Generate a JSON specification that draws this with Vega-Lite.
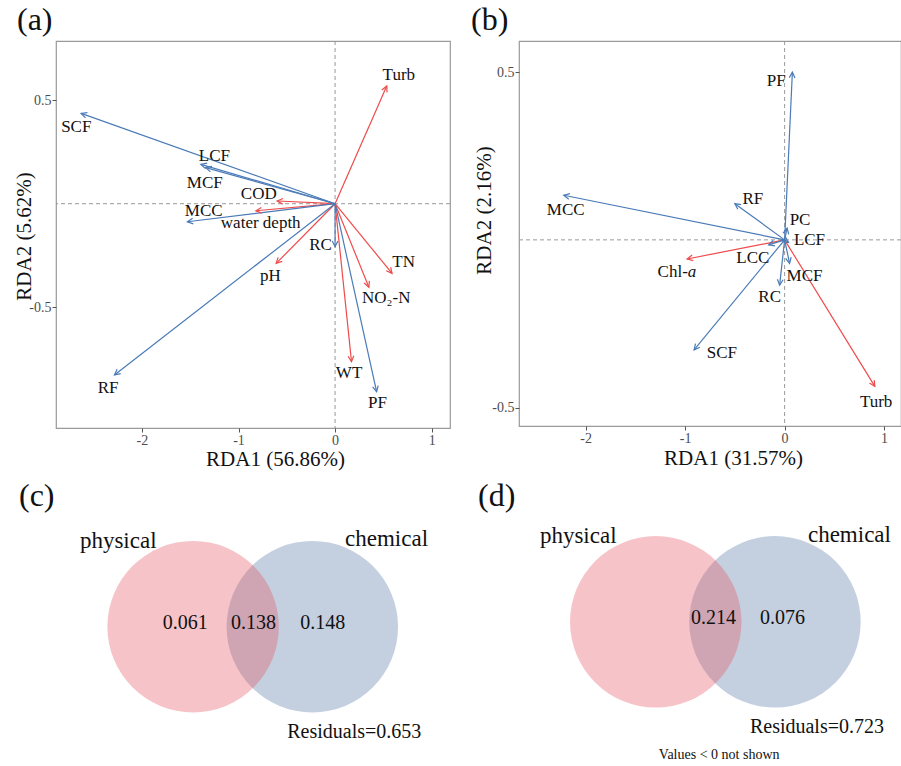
{
  "$schema": "https://vega.github.io/schema/vega-lite/v6.json",
  "background": "white",
  "padding": {"left": 12, "top": 2, "right": 0, "bottom": 0},
  "autosize": {"type": "pad"},
  "resolve": {"scale": {"color": "independent"}, "legend": {"color": "independent"}},
  "config": {
    "font": "Liberation Serif",
    "view": {"stroke": "#9a9a9a", "strokeWidth": 1.2},
    "axis": {"grid": false, "domain": false, "tickColor": "#555555", "tickSize": 4, "labelFont": "Liberation Serif", "labelFontSize": 14, "labelColor": "#4d4d4d", "labelPadding": 1, "titleFont": "Liberation Serif", "titleFontSize": 21, "titleFontWeight": "normal", "titleColor": "#111111"},
    "title": {"font": "Liberation Serif", "fontSize": 32, "fontWeight": "normal", "anchor": "start", "frame": "group", "color": "#111111"}
  },
  "datasets": {
    "rdaA": [
      {"name": "Turb", "group": "env", "x": 0.535, "y": 0.568, "lx": 0.66, "ly": 0.62},
      {"name": "COD", "group": "env", "x": -0.60, "y": 0.013, "lx": -0.79, "ly": 0.047},
      {"name": "water depth", "group": "env", "x": -0.82, "y": -0.034, "lx": -0.77, "ly": -0.092},
      {"name": "pH", "group": "env", "x": -0.61, "y": -0.288, "lx": -0.67, "ly": -0.35},
      {"name": "TN", "group": "env", "x": 0.59, "y": -0.336, "lx": 0.71, "ly": -0.28},
      {"name": "NO₂-N", "group": "env", "x": 0.35, "y": -0.403, "lx": 0.53, "ly": -0.456},
      {"name": "WT", "group": "env", "x": 0.17, "y": -0.762, "lx": 0.145, "ly": -0.815},
      {"name": "SCF", "group": "species", "x": -2.63, "y": 0.436, "lx": -2.68, "ly": 0.37},
      {"name": "LCF", "group": "species", "x": -1.39, "y": 0.19, "lx": -1.25, "ly": 0.23},
      {"name": "MCF", "group": "species", "x": -1.34, "y": 0.174, "lx": -1.35, "ly": 0.10},
      {"name": "MCC", "group": "species", "x": -1.53, "y": -0.087, "lx": -1.36, "ly": -0.034},
      {"name": "RC", "group": "species", "x": 0.0, "y": -0.207, "lx": -0.15, "ly": -0.20},
      {"name": "PF", "group": "species", "x": 0.43, "y": -0.907, "lx": 0.44, "ly": -0.96},
      {"name": "RF", "group": "species", "x": -2.285, "y": -0.826, "lx": -2.35, "ly": -0.89}
    ],
    "rdaB": [
      {"name": "Turb", "group": "env", "x": 0.907, "y": -0.437, "lx": 0.92, "ly": -0.482},
      {"name": "Chl-a", "group": "env", "x": -0.98, "y": -0.057, "lx": -0.973, "ly": -0.097, "lab": "Chl-", "ital": "a"},
      {"name": "PF", "group": "species", "x": 0.078, "y": 0.5, "lx": -0.084, "ly": 0.475},
      {"name": "MCC", "group": "species", "x": -2.22, "y": 0.133, "lx": -2.2, "ly": 0.088},
      {"name": "RF", "group": "species", "x": -0.50, "y": 0.108, "lx": -0.32, "ly": 0.123},
      {"name": "PC", "group": "species", "x": 0.025, "y": 0.035, "lx": 0.155, "ly": 0.058},
      {"name": "LCF", "group": "species", "x": 0.04, "y": -0.008, "lx": 0.25, "ly": 0.0},
      {"name": "LCC", "group": "species", "x": -0.16, "y": -0.015, "lx": -0.32, "ly": -0.054},
      {"name": "MCF", "group": "species", "x": 0.05, "y": -0.07, "lx": 0.2, "ly": -0.108},
      {"name": "RC", "group": "species", "x": -0.05, "y": -0.135, "lx": -0.15, "ly": -0.17},
      {"name": "SCF", "group": "species", "x": -0.91, "y": -0.328, "lx": -0.63, "ly": -0.338}
    ],
    "vennCcircles": [
      {"set": "chemical", "cx": 6.505, "cy": 3.43},
      {"set": "physical", "cx": 3.48, "cy": 3.43}
    ],
    "vennClabels": [
      {"text": "physical", "kind": "set", "tx": 1.58, "ty": 5.56},
      {"text": "chemical", "kind": "set", "tx": 8.39, "ty": 5.60},
      {"text": "0.061", "kind": "value", "tx": 3.28, "ty": 3.51},
      {"text": "0.138", "kind": "value", "tx": 5.01, "ty": 3.51},
      {"text": "0.148", "kind": "value", "tx": 6.77, "ty": 3.51},
      {"text": "Residuals=0.653", "kind": "value", "tx": 7.57, "ty": 0.83}
    ],
    "vennDcircles": [
      {"set": "chemical", "cx": 6.70, "cy": 3.55},
      {"set": "physical", "cx": 3.58, "cy": 3.55}
    ],
    "vennDlabels": [
      {"text": "physical", "kind": "set", "tx": 1.55, "ty": 5.69},
      {"text": "chemical", "kind": "set", "tx": 8.65, "ty": 5.70},
      {"text": "0.214", "kind": "value", "tx": 5.09, "ty": 3.64},
      {"text": "0.076", "kind": "value", "tx": 6.90, "ty": 3.64},
      {"text": "Residuals=0.723", "kind": "value", "tx": 7.80, "ty": 0.95},
      {"text": "Values < 0 not shown", "kind": "note", "tx": 5.24, "ty": 0.24}
    ]
  },
  "columns": 2,
  "bounds": "flush",
  "spacing": {"row": 87, "column": 69},
  "concat": [
    {
      "width": 394, "height": 387,
      "title": {"text": "(a)", "dx": -39, "offset": 4},
      "data": {"name": "rdaA"},
      "layer": [
        {
          "data": {"values": [{"o": 0}]},
          "mark": {"type": "rule", "color": "#9a9a9a", "strokeDash": [4, 3], "strokeWidth": 1},
          "encoding": {"x": {"field": "o", "type": "quantitative", "scale": {"domain": [-2.89, 1.19], "nice": false, "zero": false},
                  "axis": {"title": "RDA1 (56.86%)", "values": [-2, -1, 0, 1], "format": "d", "labelExpr": "replace(datum.label, '\u2212', '-')", "titleX": 219, "titleY": 31, "titleBaseline": "middle"}}}
        },
        {
          "data": {"values": [{"o": 0}]},
          "mark": {"type": "rule", "color": "#9a9a9a", "strokeDash": [4, 3], "strokeWidth": 1},
          "encoding": {"y": {"field": "o", "type": "quantitative", "scale": {"domain": [-1.082, 0.785], "nice": false, "zero": false},
                  "axis": {"title": "RDA2 (5.62%)", "values": [-0.5, 0.5], "format": ".1f", "labelExpr": "replace(datum.label, '\u2212', '-')", "titleX": -32, "titleY": 195, "titleBaseline": "middle"}}}
        },
        {
          "mark": {"type": "rule", "strokeWidth": 1.2},
          "encoding": {
            "x": {"field": "x", "type": "quantitative", "scale": {"domain": [-2.89, 1.19], "nice": false, "zero": false},
                  "axis": {"title": "RDA1 (56.86%)", "values": [-2, -1, 0, 1], "format": "d", "labelExpr": "replace(datum.label, '\u2212', '-')", "titleX": 219, "titleY": 31, "titleBaseline": "middle"}},
            "y": {"field": "y", "type": "quantitative", "scale": {"domain": [-1.082, 0.785], "nice": false, "zero": false},
                  "axis": {"title": "RDA2 (5.62%)", "values": [-0.5, 0.5], "format": ".1f", "labelExpr": "replace(datum.label, '\u2212', '-')", "titleX": -32, "titleY": 195, "titleBaseline": "middle"}},
            "x2": {"datum": 0},
            "y2": {"datum": 0},
            "color": {"field": "group", "type": "nominal", "scale": {"domain": ["species", "env"], "range": ["#4A7BB7", "#EF4B4B"]}, "legend": null}
          }
        },
        {
          "transform": [{"calculate": "atan2(datum.x*96.57, datum.y*207.3)*180/PI", "as": "ang"}],
          "mark": {"type": "point", "shape": "M-0.5,1L0,0L0.5,1", "filled": false, "size": 130, "strokeWidth": 1.2, "opacity": 1},
          "encoding": {
            "x": {"field": "x", "type": "quantitative", "scale": {"domain": [-2.89, 1.19], "nice": false, "zero": false},
                  "axis": {"title": "RDA1 (56.86%)", "values": [-2, -1, 0, 1], "format": "d", "labelExpr": "replace(datum.label, '\u2212', '-')", "titleX": 219, "titleY": 31, "titleBaseline": "middle"}},
            "y": {"field": "y", "type": "quantitative", "scale": {"domain": [-1.082, 0.785], "nice": false, "zero": false},
                  "axis": {"title": "RDA2 (5.62%)", "values": [-0.5, 0.5], "format": ".1f", "labelExpr": "replace(datum.label, '\u2212', '-')", "titleX": -32, "titleY": 195, "titleBaseline": "middle"}},
            "angle": {"field": "ang", "type": "quantitative", "scale": null},
            "color": {"field": "group", "type": "nominal", "scale": {"domain": ["species", "env"], "range": ["#4A7BB7", "#EF4B4B"]}, "legend": null}
          }
        },
        {
          "mark": {"type": "text", "fontSize": 17, "color": "#111111"},
          "encoding": {
            "x": {"field": "lx", "type": "quantitative", "scale": {"domain": [-2.89, 1.19], "nice": false, "zero": false},
                  "axis": {"title": "RDA1 (56.86%)", "values": [-2, -1, 0, 1], "format": "d", "labelExpr": "replace(datum.label, '\u2212', '-')", "titleX": 219, "titleY": 31, "titleBaseline": "middle"}},
            "y": {"field": "ly", "type": "quantitative", "scale": {"domain": [-1.082, 0.785], "nice": false, "zero": false},
                  "axis": {"title": "RDA2 (5.62%)", "values": [-0.5, 0.5], "format": ".1f", "labelExpr": "replace(datum.label, '\u2212', '-')", "titleX": -32, "titleY": 195, "titleBaseline": "middle"}},
            "text": {"field": "name"}
          }
        }
      ]
    },
    {
      "width": 382, "height": 385,
      "title": {"text": "(b)", "dx": -48, "offset": 4},
      "data": {"name": "rdaB"},
      "layer": [
        {
          "data": {"values": [{"o": 0}]},
          "mark": {"type": "rule", "color": "#9a9a9a", "strokeDash": [4, 3], "strokeWidth": 1},
          "encoding": {"x": {"field": "o", "type": "quantitative", "scale": {"domain": [-2.67, 1.17], "nice": false, "zero": false},
                  "axis": {"title": "RDA1 (31.57%)", "values": [-2, -1, 0, 1], "format": "d", "labelExpr": "replace(datum.label, '\u2212', '-')", "titleX": 214, "titleY": 32, "titleBaseline": "middle"}}}
        },
        {
          "data": {"values": [{"o": 0}]},
          "mark": {"type": "rule", "color": "#9a9a9a", "strokeDash": [4, 3], "strokeWidth": 1},
          "encoding": {"y": {"field": "o", "type": "quantitative", "scale": {"domain": [-0.555, 0.593], "nice": false, "zero": false},
                  "axis": {"title": "RDA2 (2.16%)", "values": [-0.5, 0.5], "format": ".1f", "labelExpr": "replace(datum.label, '\u2212', '-')", "titleX": -35, "titleY": 169, "titleBaseline": "middle"}}}
        },
        {
          "mark": {"type": "rule", "strokeWidth": 1.2},
          "encoding": {
            "x": {"field": "x", "type": "quantitative", "scale": {"domain": [-2.67, 1.17], "nice": false, "zero": false},
                  "axis": {"title": "RDA1 (31.57%)", "values": [-2, -1, 0, 1], "format": "d", "labelExpr": "replace(datum.label, '\u2212', '-')", "titleX": 214, "titleY": 32, "titleBaseline": "middle"}},
            "y": {"field": "y", "type": "quantitative", "scale": {"domain": [-0.555, 0.593], "nice": false, "zero": false},
                  "axis": {"title": "RDA2 (2.16%)", "values": [-0.5, 0.5], "format": ".1f", "labelExpr": "replace(datum.label, '\u2212', '-')", "titleX": -35, "titleY": 169, "titleBaseline": "middle"}},
            "x2": {"datum": 0},
            "y2": {"datum": 0},
            "color": {"field": "group", "type": "nominal", "scale": {"domain": ["species", "env"], "range": ["#4A7BB7", "#EF4B4B"]}, "legend": null}
          }
        },
        {
          "transform": [{"calculate": "atan2(datum.x*99.48, datum.y*335.4)*180/PI", "as": "ang"}],
          "mark": {"type": "point", "shape": "M-0.5,1L0,0L0.5,1", "filled": false, "size": 130, "strokeWidth": 1.2, "opacity": 1},
          "encoding": {
            "x": {"field": "x", "type": "quantitative", "scale": {"domain": [-2.67, 1.17], "nice": false, "zero": false},
                  "axis": {"title": "RDA1 (31.57%)", "values": [-2, -1, 0, 1], "format": "d", "labelExpr": "replace(datum.label, '\u2212', '-')", "titleX": 214, "titleY": 32, "titleBaseline": "middle"}},
            "y": {"field": "y", "type": "quantitative", "scale": {"domain": [-0.555, 0.593], "nice": false, "zero": false},
                  "axis": {"title": "RDA2 (2.16%)", "values": [-0.5, 0.5], "format": ".1f", "labelExpr": "replace(datum.label, '\u2212', '-')", "titleX": -35, "titleY": 169, "titleBaseline": "middle"}},
            "angle": {"field": "ang", "type": "quantitative", "scale": null},
            "color": {"field": "group", "type": "nominal", "scale": {"domain": ["species", "env"], "range": ["#4A7BB7", "#EF4B4B"]}, "legend": null}
          }
        },
        {
          "transform": [{"filter": "datum.name != 'Chl-a'"}],
          "mark": {"type": "text", "fontSize": 17, "color": "#111111"},
          "encoding": {
            "x": {"field": "lx", "type": "quantitative", "scale": {"domain": [-2.67, 1.17], "nice": false, "zero": false},
                  "axis": {"title": "RDA1 (31.57%)", "values": [-2, -1, 0, 1], "format": "d", "labelExpr": "replace(datum.label, '\u2212', '-')", "titleX": 214, "titleY": 32, "titleBaseline": "middle"}},
            "y": {"field": "ly", "type": "quantitative", "scale": {"domain": [-0.555, 0.593], "nice": false, "zero": false},
                  "axis": {"title": "RDA2 (2.16%)", "values": [-0.5, 0.5], "format": ".1f", "labelExpr": "replace(datum.label, '\u2212', '-')", "titleX": -35, "titleY": 169, "titleBaseline": "middle"}},
            "text": {"field": "name"}
          }
        },
        {
          "transform": [{"filter": "datum.name == 'Chl-a'"}],
          "mark": {"type": "text", "fontSize": 17, "color": "#111111", "align": "right"},
          "encoding": {
            "x": {"field": "lx", "type": "quantitative", "scale": {"domain": [-2.67, 1.17], "nice": false, "zero": false},
                  "axis": {"title": "RDA1 (31.57%)", "values": [-2, -1, 0, 1], "format": "d", "labelExpr": "replace(datum.label, '\u2212', '-')", "titleX": 214, "titleY": 32, "titleBaseline": "middle"}},
            "y": {"field": "ly", "type": "quantitative", "scale": {"domain": [-0.555, 0.593], "nice": false, "zero": false},
                  "axis": {"title": "RDA2 (2.16%)", "values": [-0.5, 0.5], "format": ".1f", "labelExpr": "replace(datum.label, '\u2212', '-')", "titleX": -35, "titleY": 169, "titleBaseline": "middle"}},
            "text": {"field": "lab"}
          }
        },
        {
          "transform": [{"filter": "datum.name == 'Chl-a'"}],
          "mark": {"type": "text", "fontSize": 17, "color": "#111111", "align": "left", "fontStyle": "italic"},
          "encoding": {
            "x": {"field": "lx", "type": "quantitative", "scale": {"domain": [-2.67, 1.17], "nice": false, "zero": false},
                  "axis": {"title": "RDA1 (31.57%)", "values": [-2, -1, 0, 1], "format": "d", "labelExpr": "replace(datum.label, '\u2212', '-')", "titleX": 214, "titleY": 32, "titleBaseline": "middle"}},
            "y": {"field": "ly", "type": "quantitative", "scale": {"domain": [-0.555, 0.593], "nice": false, "zero": false},
                  "axis": {"title": "RDA2 (2.16%)", "values": [-0.5, 0.5], "format": ".1f", "labelExpr": "replace(datum.label, '\u2212', '-')", "titleX": -35, "titleY": 169, "titleBaseline": "middle"}},
            "text": {"field": "ital"}
          }
        }
      ]
    },
    {
      "width": 394, "height": 250,
      "view": {"stroke": null},
      "title": {"text": "(c)", "dx": -37, "offset": 2},
      "layer": [
        {
          "data": {"name": "vennCcircles"},
          "mark": {"type": "point", "shape": "circle", "filled": true, "size": 29400, "opacity": 0.35, "strokeWidth": 0},
          "encoding": {
            "x": {"field": "cx", "type": "quantitative", "scale": {"domain": [0, 10], "nice": false, "zero": false}, "axis": null},
            "y": {"field": "cy", "type": "quantitative", "scale": {"domain": [0, 6.2], "nice": false, "zero": false}, "axis": null},
            "color": {"field": "set", "type": "nominal", "scale": {"domain": ["physical", "chemical"], "range": ["#E55662", "#5679A6"]}, "legend": null}
          }
        },
        {
          "data": {"name": "vennClabels"},
          "transform": [{"filter": "datum.kind == 'set'"}],
          "mark": {"type": "text", "fontSize": 23, "color": "#111111"},
          "encoding": {
            "x": {"field": "tx", "type": "quantitative", "scale": {"domain": [0, 10], "nice": false, "zero": false}, "axis": null},
            "y": {"field": "ty", "type": "quantitative", "scale": {"domain": [0, 6.2], "nice": false, "zero": false}, "axis": null},
            "text": {"field": "text"}
          }
        },
        {
          "data": {"name": "vennClabels"},
          "transform": [{"filter": "datum.kind == 'value'"}],
          "mark": {"type": "text", "fontSize": 20, "color": "#111111"},
          "encoding": {
            "x": {"field": "tx", "type": "quantitative", "scale": {"domain": [0, 10], "nice": false, "zero": false}, "axis": null},
            "y": {"field": "ty", "type": "quantitative", "scale": {"domain": [0, 6.2], "nice": false, "zero": false}, "axis": null},
            "text": {"field": "text"}
          }
        }
      ]
    },
    {
      "width": 382, "height": 250,
      "view": {"stroke": null},
      "title": {"text": "(d)", "dx": -41, "offset": 2},
      "layer": [
        {
          "data": {"name": "vennDcircles"},
          "mark": {"type": "point", "shape": "circle", "filled": true, "size": 29400, "opacity": 0.35, "strokeWidth": 0},
          "encoding": {
            "x": {"field": "cx", "type": "quantitative", "scale": {"domain": [0, 10], "nice": false, "zero": false}, "axis": null},
            "y": {"field": "cy", "type": "quantitative", "scale": {"domain": [0, 6.2], "nice": false, "zero": false}, "axis": null},
            "color": {"field": "set", "type": "nominal", "scale": {"domain": ["physical", "chemical"], "range": ["#E55662", "#5679A6"]}, "legend": null}
          }
        },
        {
          "data": {"name": "vennDlabels"},
          "transform": [{"filter": "datum.kind == 'set'"}],
          "mark": {"type": "text", "fontSize": 23, "color": "#111111"},
          "encoding": {
            "x": {"field": "tx", "type": "quantitative", "scale": {"domain": [0, 10], "nice": false, "zero": false}, "axis": null},
            "y": {"field": "ty", "type": "quantitative", "scale": {"domain": [0, 6.2], "nice": false, "zero": false}, "axis": null},
            "text": {"field": "text"}
          }
        },
        {
          "data": {"name": "vennDlabels"},
          "transform": [{"filter": "datum.kind == 'value'"}],
          "mark": {"type": "text", "fontSize": 20, "color": "#111111"},
          "encoding": {
            "x": {"field": "tx", "type": "quantitative", "scale": {"domain": [0, 10], "nice": false, "zero": false}, "axis": null},
            "y": {"field": "ty", "type": "quantitative", "scale": {"domain": [0, 6.2], "nice": false, "zero": false}, "axis": null},
            "text": {"field": "text"}
          }
        },
        {
          "data": {"name": "vennDlabels"},
          "transform": [{"filter": "datum.kind == 'note'"}],
          "mark": {"type": "text", "fontSize": 14, "color": "#111111"},
          "encoding": {
            "x": {"field": "tx", "type": "quantitative", "scale": {"domain": [0, 10], "nice": false, "zero": false}, "axis": null},
            "y": {"field": "ty", "type": "quantitative", "scale": {"domain": [0, 6.2], "nice": false, "zero": false}, "axis": null},
            "text": {"field": "text"}
          }
        }
      ]
    }
  ]
}
